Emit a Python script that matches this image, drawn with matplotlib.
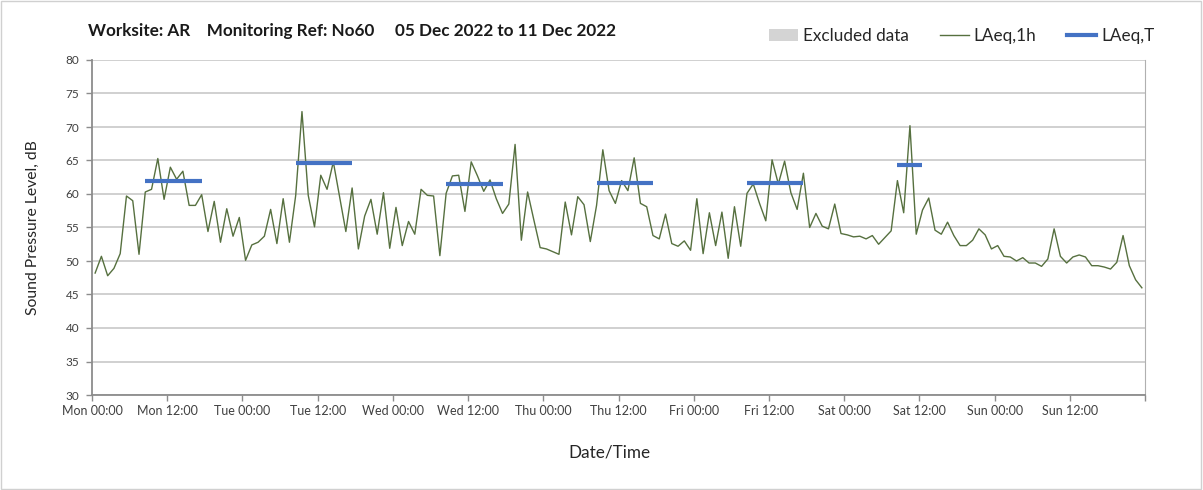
import numpy as np
import matplotlib.pyplot as plt
from matplotlib.patches import Patch
from matplotlib.lines import Line2D

plt.rcParams["font.family"] = ["Lato", "DejaVu Sans"]

# hourly LAeq,1h readings, Mon 00:00 -> Sun 23:00
laeq_1h = [
    48.2, 50.7, 47.8, 48.9, 51.1, 59.7, 59.0, 51.0, 60.3, 60.7, 65.3, 59.2,
    64.0, 62.2, 63.4, 58.3, 58.3, 59.9, 54.4, 58.9, 52.8, 57.8, 53.7, 56.5,
    50.1, 52.4, 52.8, 53.7, 57.7, 52.6, 59.3, 52.8, 59.8, 72.3, 59.8, 55.1,
    62.8, 60.7, 64.8, 59.6, 54.4, 60.9, 51.8, 56.7, 59.2, 54.0, 60.2, 51.9,
    58.0, 52.3, 55.9, 54.0, 60.7, 59.8, 59.7, 50.8, 60.1, 62.7, 62.8, 57.4,
    64.8, 62.7, 60.4, 62.1, 59.3, 57.1, 58.5, 67.4, 53.1, 60.3, 56.1, 52.0,
    51.8, 51.4, 51.0, 58.8, 53.9, 59.6, 58.4, 52.9, 58.3, 66.6, 60.5, 58.6,
    62.0, 60.5, 65.4, 58.6, 58.1, 53.8, 53.3, 57.0, 52.6, 52.2, 53.0, 51.6,
    59.3, 51.1, 57.2, 52.3, 57.3, 50.4, 58.1, 52.2, 60.1, 61.5, 58.6, 56.0,
    65.1, 61.5, 64.9, 60.2, 57.7, 63.1, 55.0, 57.1, 55.2, 54.8, 58.5, 54.1,
    53.9, 53.6, 53.7, 53.3, 53.8, 52.5, 53.5, 54.5, 62.0, 57.2, 70.2, 54.0,
    57.6, 59.4, 54.6, 54.0, 55.8, 53.8, 52.3, 52.3, 53.1, 54.8, 53.9, 51.8,
    52.3, 50.7, 50.6, 50.0, 50.5, 49.7, 49.7, 49.2, 50.3, 54.8, 50.7, 49.7,
    50.6, 50.9, 50.6, 49.3, 49.3, 49.1, 48.8, 49.8, 53.8, 49.3, 47.2, 46.0,
]

# LAeq,T over the working periods (Mon-Fri 08-18, Sat 08-13)
period_day = [0, 1, 2, 3, 4, 5]
period_start = [8, 8, 8, 8, 8, 8]
period_end = [18, 18, 18, 18, 18, 13]
laeq_t = [61.9, 64.6, 61.5, 61.7, 61.7, 64.4]

tick_labels = ["Mon 00:00", "Mon 12:00", "Tue 00:00", "Tue 12:00", "Wed 00:00",
               "Wed 12:00", "Thu 00:00", "Thu 12:00", "Fri 00:00", "Fri 12:00",
               "Sat 00:00", "Sat 12:00", "Sun 00:00", "Sun 12:00", ""]

title = "Worksite: AR    Monitoring Ref: No60     05 Dec 2022 to 11 Dec 2022"

green = "#56703f"
blue = "#4472c4"
txt = "#404040"

fig = plt.figure(figsize=(12.03, 4.9), dpi=100)
ax = fig.add_axes([92 / 1203, 1 - 395 / 490, 1053 / 1203, 335 / 490])

hours = np.arange(len(laeq_1h)) + 0.5
ax.plot(hours, laeq_1h, color=green, lw=1.0, zorder=3)

for d, s, e, v in zip(period_day, period_start, period_end, laeq_t):
    ax.plot([d * 24 + s + 0.5, d * 24 + e - 0.5], [v, v], color=blue, lw=3,
            solid_capstyle="butt", zorder=4)

ax.set_xlim(0, 168)
ax.set_ylim(30, 80)
ax.set_yticks(np.arange(30, 81, 5))
ax.set_xticks(np.arange(0, 169, 12))
ax.set_xticklabels(tick_labels)
ax.set_xticks(np.arange(0, 169, 24), minor=True)

ax.grid(axis="y", color="#c8c8c8", lw=1.2, zorder=0)
ax.grid(axis="x", which="minor", color="#dadada", lw=1.2, zorder=0)
ax.tick_params(axis="x", which="minor", length=0)
ax.tick_params(axis="both", which="major", length=4, width=1, color="#8c8c8c",
               labelsize=9, labelcolor=txt, pad=3)
ax.tick_params(axis="y", labelsize=8.5, pad=5)

for side in ["left", "bottom"]:
    ax.spines[side].set_color("#8c8c8c")
    ax.spines[side].set_linewidth(1.3)
ax.spines["right"].set_color("#b0b0b0")
ax.spines["top"].set_visible(False)

ax.set_ylabel("Sound Pressure Level, dB", fontsize=11.3, color="#262626")
ax.yaxis.set_label_coords(-52 / 1053, 0.5)
ax.set_xlabel("Date/Time", fontsize=12.3, color="#262626")
ax.xaxis.set_label_coords((609 - 92) / 1053, -49 / 335)

fig.text(88 / 1203, 1 - 31 / 490, title, fontsize=12.3, fontweight="bold",
         color="#1a1a1a", va="center", ha="left")

handles = [
    Patch(facecolor="#d4d4d4", edgecolor="none"),
    Line2D([], [], color=green, lw=1.0),
    Line2D([], [], color=blue, lw=3),
]
fig.legend(handles, ["Excluded data", "LAeq,1h", "LAeq,T"], loc="center right",
           bbox_to_anchor=(1170 / 1203, 1 - 36 / 490), ncol=3, frameon=False,
           fontsize=12.3, handlelength=1.7, handletextpad=0.3, columnspacing=1.8,
           labelcolor="#262626")

# light border round the chart area
fig.patches.append(plt.Rectangle((0.001, 0.002), 0.997, 0.995, transform=fig.transFigure,
                                 fill=False, edgecolor="#d0d0d0", lw=1))

fig.savefig("out.png", dpi=100)
